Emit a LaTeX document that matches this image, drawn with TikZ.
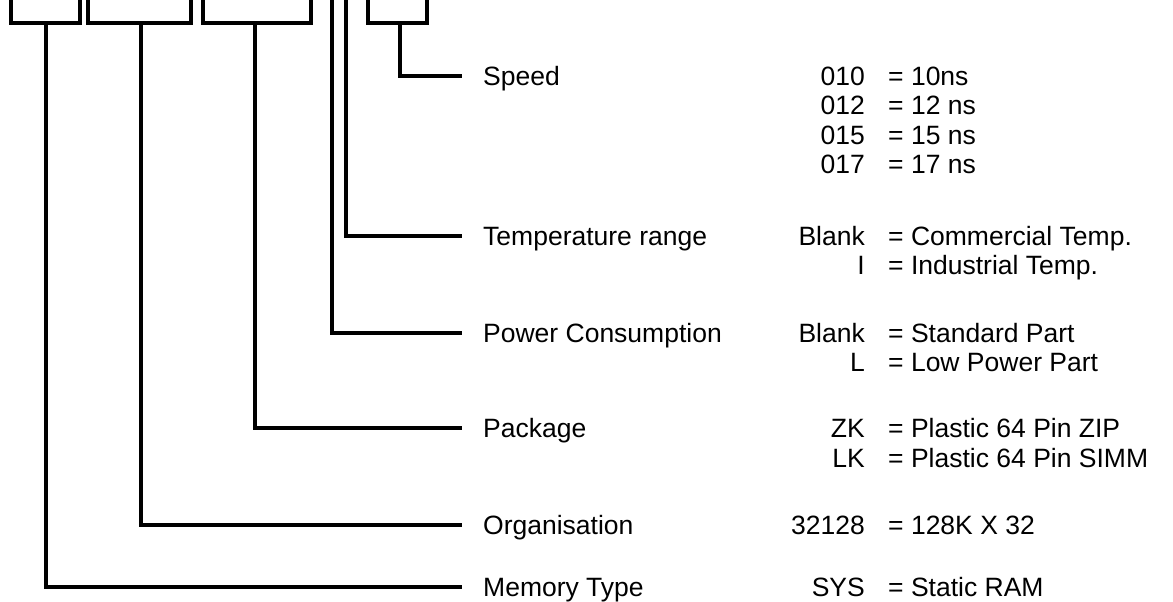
\documentclass[tikz,border=0pt]{standalone}
\usepackage{fontspec}
\setmainfont{Liberation Sans}
\usetikzlibrary{positioning}
\tikzset{
  lead/.style={
    draw=black, line width=3.6pt
  },
  txt/.style={
    inner sep=0pt, text height=18.8pt, text depth=0pt,
    font=\fontsize{26.5}{30}\selectfont
  },
  fieldlab/.style={txt, anchor=west, inner xsep=21pt},
  codelab/.style={txt, anchor=east},
  vallab/.style={txt, anchor=west},
}

\begin{document}
\begin{tikzpicture}[x=1pt,y=1pt]
  \useasboundingbox (0,0) rectangle (1173,-602);
  \clip (0,0) rectangle (1173,-602);
  % brackets over the part number
  \draw[lead] (11,6)  |- (80,-23)  -- (80,6);
  \draw[lead] (88,6)  |- (191,-23) -- (191,6);
  \draw[lead] (203,6) |- (311,-23) -- (311,6);
  \draw[lead] (368,6) |- (427,-23) -- (427,6);
  \coordinate (memstem) at (46,-23);
  \coordinate (orgstem) at (141,-23);
  \coordinate (pkgstem) at (255,-23);
  \coordinate (pwrstem) at (332,6);
  \coordinate (tmpstem) at (346,6);
  \coordinate (spdstem) at (400,-23);

  % field names
  \node[fieldlab] (spdlab) at (462,-76)  {Speed};
  \node[fieldlab] (tmplab) at (462,-236) {Temperature range};
  \node[fieldlab] (pwrlab) at (462,-333) {Power Consumption};
  \node[fieldlab] (pkglab) at (462,-428) {Package};
  \node[fieldlab] (orglab) at (462,-525) {Organisation};
  \node[fieldlab] (memlab) at (462,-587) {Memory Type};

  \draw[lead] (spdstem) |- (spdlab.west);
  \draw[lead] (tmpstem) |- (tmplab.west);
  \draw[lead] (pwrstem) |- (pwrlab.west);
  \draw[lead] (pkgstem) |- (pkglab.west);
  \draw[lead] (orgstem) |- (orglab.west);
  \draw[lead] (memstem) |- (memlab.west);

  % codes and meanings
  \node[codelab] (spd1) at (865,-76)    {010};
  \node[vallab]  (spd1v) at (888,-76)   {= 10ns};
  \node[codelab] (spd2) at (865,-105.5) {012};
  \node[vallab]  (spd2v) at (888,-105.5) {= 12 ns};
  \node[codelab] (spd3) at (865,-135)   {015};
  \node[vallab]  (spd3v) at (888,-135)  {= 15 ns};
  \node[codelab] (spd4) at (865,-164.5) {017};
  \node[vallab]  (spd4v) at (888,-164.5) {= 17 ns};

  \node[codelab] (tmp1) at (865,-236)  {Blank};
  \node[vallab]  (tmp1v) at (888,-236) {= Commercial Temp.};
  \node[codelab] (tmp2) at (865,-265)  {I};
  \node[vallab]  (tmp2v) at (888,-265) {= Industrial Temp.};

  \node[codelab] (pwr1) at (865,-333)  {Blank};
  \node[vallab]  (pwr1v) at (888,-333) {= Standard Part};
  \node[codelab] (pwr2) at (865,-362)  {L};
  \node[vallab]  (pwr2v) at (888,-362) {= Low Power Part};

  \node[codelab] (pkg1) at (865,-428)  {ZK};
  \node[vallab]  (pkg1v) at (888,-428) {= Plastic 64 Pin ZIP};
  \node[codelab] (pkg2) at (865,-458)  {LK};
  \node[vallab]  (pkg2v) at (888,-458) {= Plastic 64 Pin SIMM};

  \node[codelab] (org1) at (865,-525)  {32128};
  \node[vallab]  (org1v) at (888,-525) {= 128K X 32};

  \node[codelab] (mem1) at (865,-587)  {SYS};
  \node[vallab]  (mem1v) at (888,-587) {= Static RAM};
\end{tikzpicture}
\end{document}
